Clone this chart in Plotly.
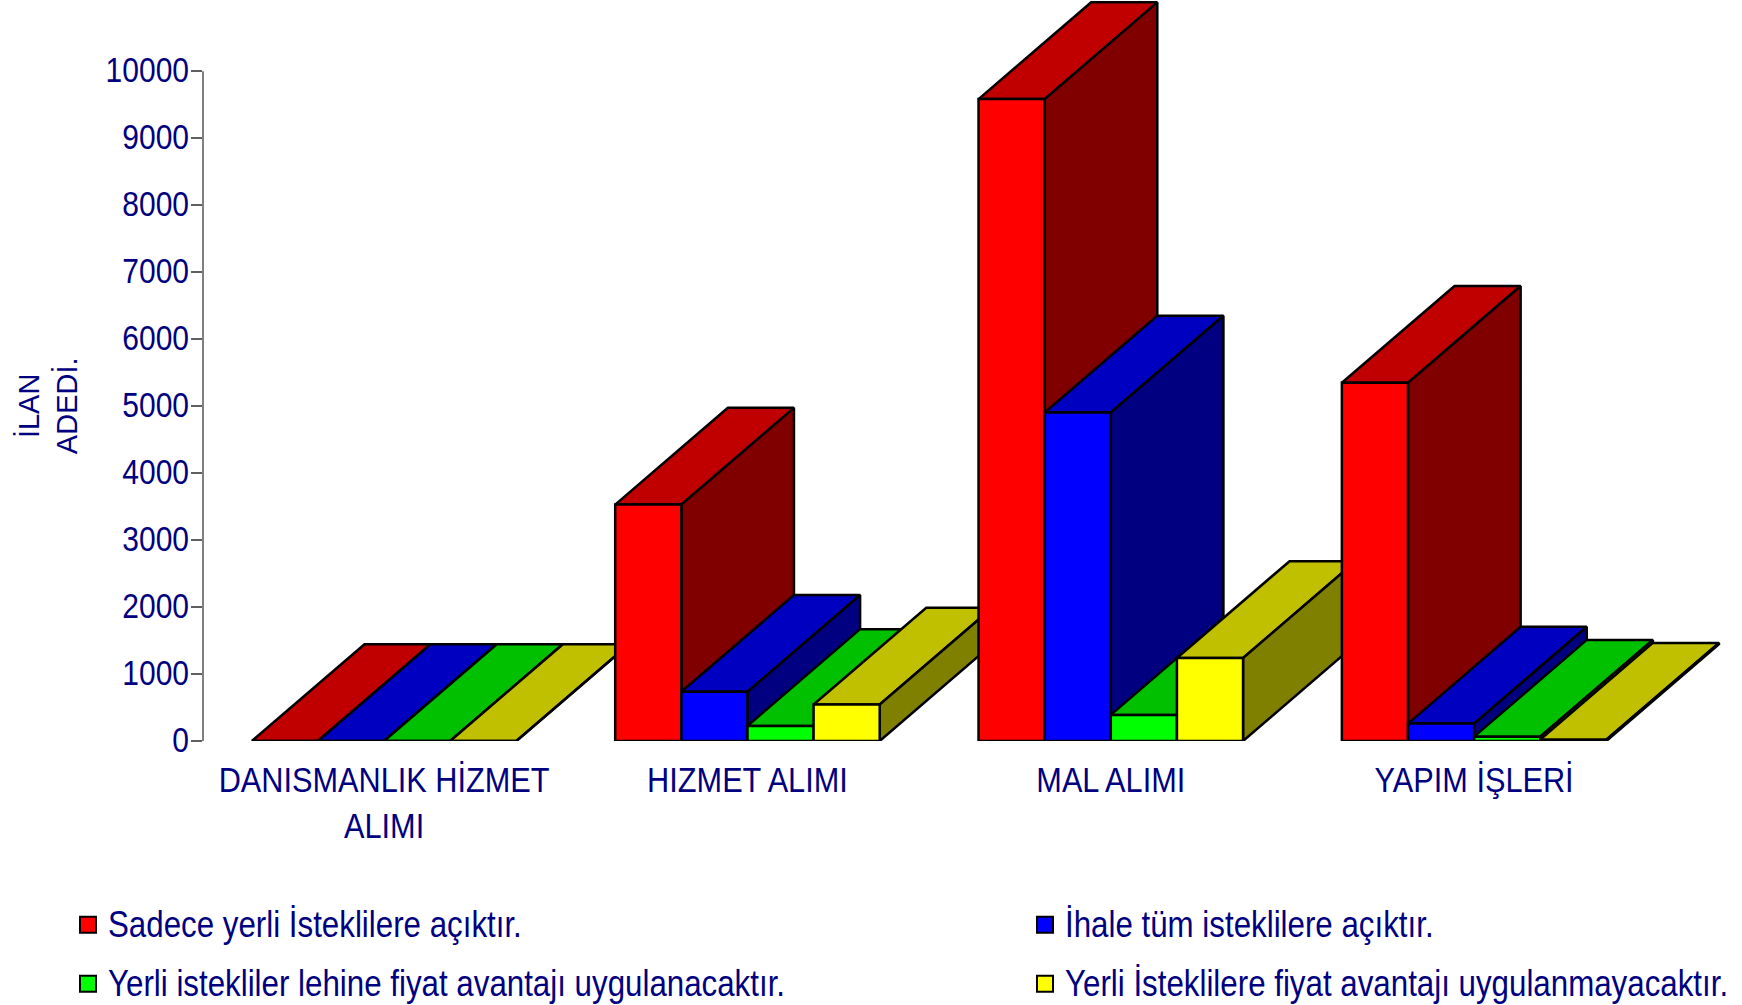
import plotly.graph_objects as go

categories = ["DANISMANLIK HİZMET<br>ALIMI", "HIZMET ALIMI", "MAL ALIMI", "YAPIM İŞLERİ"]
sadece_yerli = [0, 3530, 9585, 5350]
tum_istekli = [0, 735, 4905, 260]
fiyat_avantajli = [0, 225, 390, 65]
fiyat_avantajsiz = [0, 545, 1240, 20]

series_names = [
    "Sadece yerli İsteklilere açıktır.",
    "İhale tüm isteklilere açıktır.",
    "Yerli istekliler lehine fiyat avantajı uygulanacaktır.",
    "Yerli İsteklilere fiyat avantajı uygulanmayacaktır.",
]
series_values = [sadece_yerli, tum_istekli, fiyat_avantajli, fiyat_avantajsiz]
front_colors = ["#FF0000", "#0000FF", "#00FF00", "#FFFF00"]
top_colors = ["#C00000", "#0000C0", "#00C000", "#C0C000"]
side_colors = ["#800000", "#000080", "#008000", "#808000"]
y_ticks = list(range(0, 10001, 1000))

BAR_W = 0.182
DEPTH_X = 0.31
DEPTH_Y = 1445
NAVY = "#000080"
FONT = "Liberation Sans, Arial, sans-serif"
W, H = 1742, 1005
PLOT_L, PLOT_B, PLOT_W, PLOT_H = 203, 741, 1530, 740


def face(xs, ys, color):
    return go.Scatter(
        x=xs, y=ys, mode="lines", fill="toself", fillcolor=color,
        line=dict(color="black", width=2.5), showlegend=False, hoverinfo="skip",
    )


fig = go.Figure()
for c in range(len(categories)):
    for s, vals in enumerate(series_values):
        x0 = c - 2 * BAR_W + s * BAR_W
        x1 = x0 + BAR_W
        v = vals[c]
        fig.add_trace(face([x0, x1, x1 + DEPTH_X, x0 + DEPTH_X, x0],
                           [v, v, v + DEPTH_Y, v + DEPTH_Y, v], top_colors[s]))
        fig.add_trace(face([x1, x1 + DEPTH_X, x1 + DEPTH_X, x1, x1],
                           [0, DEPTH_Y, v + DEPTH_Y, v, 0], side_colors[s]))
        fig.add_trace(face([x0, x1, x1, x0, x0], [0, 0, v, v, 0], front_colors[s]))

# pixel positions of the legend entries (left edge, vertical centre)
legend_pos = [(68, 925), (1025, 925), (68, 984), (1025, 984)]
layout_legends = {}
for s, name in enumerate(series_names):
    key = "legend" if s == 0 else f"legend{s + 1}"
    fig.add_trace(go.Scatter(
        x=[None], y=[None], mode="markers", name=name, legend=key,
        marker=dict(symbol="square", size=16, color=front_colors[s],
                    line=dict(color="black", width=2)),
    ))
    px, py = legend_pos[s]
    layout_legends[key] = dict(
        x=(px - PLOT_L) / PLOT_W, y=(PLOT_B - py) / PLOT_H, xanchor="left", yanchor="middle",
        itemsizing="trace", itemwidth=30, bgcolor="rgba(0,0,0,0)", borderwidth=0,
        font=dict(family=FONT, size=31.3, color=NAVY),
    )

fig.add_shape(type="line", xref="x domain", yref="y", x0=0, x1=0, y0=0, y1=10000,
              line=dict(color="#808080", width=2))

fig.add_annotation(text="İLAN<br>ADEDİ.", xref="paper", yref="y",
                   x=(48 - PLOT_L) / PLOT_W, y=5000, textangle=-90, showarrow=False,
                   xanchor="center", yanchor="middle", align="center",
                   font=dict(family=FONT, size=29, color=NAVY))

fig.update_layout(
    width=W, height=H,
    margin=dict(l=PLOT_L, r=W - PLOT_L - PLOT_W, t=1, b=264, pad=0, autoexpand=False),
    paper_bgcolor="white", plot_bgcolor="white", showlegend=True,
    font=dict(family=FONT, color=NAVY),
    xaxis=dict(range=[-0.4985, 3.7125], tickmode="array", tickvals=list(range(len(categories))),
               ticktext=categories, showgrid=False, zeroline=False, showline=False,
               ticks="", ticklabelstandoff=19, tickangle=0,
               tickfont=dict(family=FONT, size=30.7, color=NAVY)),
    yaxis=dict(range=[0, 11050], tickmode="array", tickvals=y_ticks, tickformat="d", showgrid=False,
               zeroline=False, showline=False, ticks="outside", ticklen=11, tickwidth=2,
               ticklabelstandoff=-4, tickcolor="#606060",
               tickfont=dict(family=FONT, size=30, color=NAVY)),
    **layout_legends,
)

# The reference's lettering is taller than it is wide: stretch each label about its baseline.
stretch = """
function stretchLabels() {
  document.querySelectorAll('.xtick text, .ytick text, text[class^="legend"]').forEach(function (t) {
    var old = t.getAttribute('transform') || '';
    if (old.indexOf('scale(1,1.17)') >= 0) return;
    var y = parseFloat(t.getAttribute('y')) || 0;
    t.setAttribute('transform', old + ' translate(0,' + y + ') scale(1,1.17) translate(0,' + (-y) + ')');
  });
}
document.body.style.margin = '0';
document.body.style.overflow = 'hidden';
stretchLabels();
[20, 100, 300, 800, 1500].forEach(function (ms) { setTimeout(stretchLabels, ms); });
"""
fig.write_html("out.html", config={"displayModeBar": False}, post_script=stretch)
